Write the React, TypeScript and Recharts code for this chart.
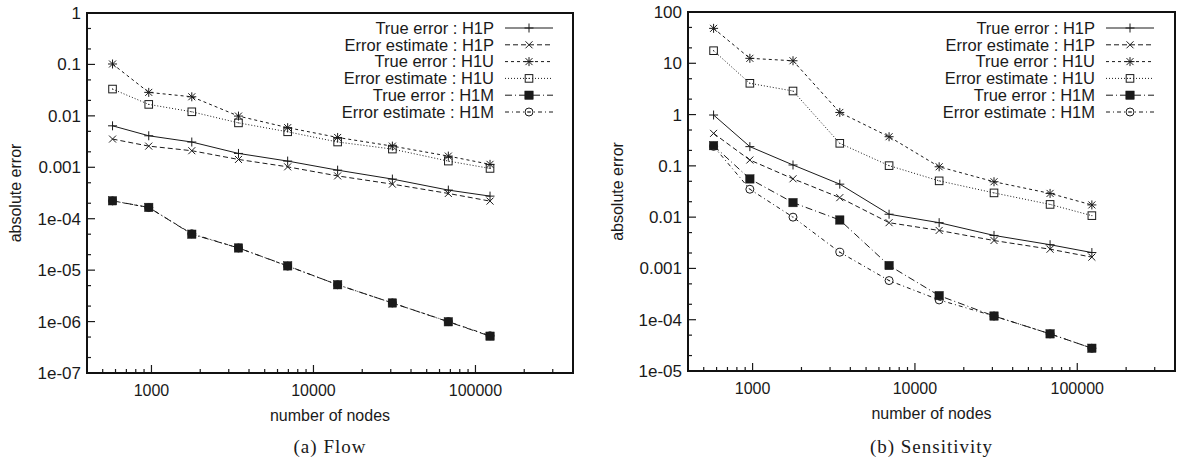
import React from 'react';
import { LineChart, Line, XAxis, YAxis, Legend } from 'recharts';

// ---------------- data ----------------
const nodes = [575, 962, 1774, 3444, 6930, 14100, 30700, 68000, 123000];

const seriesNames = [
  'True error : H1P',
  'Error estimate : H1P',
  'True error : H1U',
  'Error estimate : H1U',
  'True error : H1M',
  'Error estimate : H1M',
];

// (a) Flow
const flowTrueH1P = [0.0064, 0.0041, 0.0031, 0.00186, 0.00132, 0.00088, 0.00059, 0.00036, 0.000275];
const flowEstH1P = [0.00354, 0.00258, 0.0021, 0.00142, 0.00102, 0.00068, 0.00047, 0.00031, 0.00022];
const flowTrueH1U = [0.102, 0.0286, 0.0235, 0.0099, 0.0059, 0.0038, 0.00258, 0.00165, 0.00114];
const flowEstH1U = [0.0332, 0.0167, 0.012, 0.0073, 0.0049, 0.0031, 0.00226, 0.00132, 0.00095];
const flowTrueH1M = [0.000223, 0.000166, 5.0e-5, 2.7e-5, 1.21e-5, 5.2e-6, 2.3e-6, 9.9e-7, 5.2e-7];
const flowEstH1M = [0.000222, 0.000165, 5.1e-5, 2.7e-5, 1.2e-5, 5.2e-6, 2.3e-6, 1.0e-6, 5.3e-7];

// (b) Sensitivity
const sensTrueH1P = [0.98, 0.237, 0.104, 0.044, 0.0114, 0.0078, 0.0044, 0.0029, 0.00204];
const sensEstH1P = [0.43, 0.13, 0.056, 0.024, 0.0078, 0.0055, 0.0035, 0.00237, 0.00166];
const sensTrueH1U = [48, 12.5, 11.2, 1.1, 0.37, 0.096, 0.049, 0.029, 0.0173];
const sensEstH1U = [17.6, 4.07, 2.88, 0.275, 0.101, 0.051, 0.0297, 0.0177, 0.0107];
const sensTrueH1M = [0.248, 0.0556, 0.0192, 0.0088, 0.00114, 0.000295, 0.000118, 5.3e-5, 2.78e-5];
const sensEstH1M = [0.24, 0.035, 0.01, 0.00207, 0.00058, 0.000243, 0.000118, 5.3e-5, 2.78e-5];

// axes
const xDomain = [400, 400000];
const xMajorTicks = [1000, 10000, 100000];
const xTickLabels = ['1000', '10000', '100000'];
const xMinorTicks = [
  400, 500, 600, 700, 800, 900,
  2000, 3000, 4000, 5000, 6000, 7000, 8000, 9000,
  20000, 30000, 40000, 50000, 60000, 70000, 80000, 90000,
  200000, 300000, 400000,
];

const flowYMajor = [1e-7, 1e-6, 1e-5, 1e-4, 1e-3, 1e-2, 1e-1, 1];
const flowYLabels = ['1e-07', '1e-06', '1e-05', '1e-04', '0.001', '0.01', '0.1', '1'];
const sensYMajor = [1e-5, 1e-4, 1e-3, 1e-2, 1e-1, 1, 10, 100];
const sensYLabels = ['1e-05', '1e-04', '0.001', '0.01', '0.1', '1', '10', '100'];
const yMinorMultipliers = [2, 5];

const xLabel = 'number of nodes';
const yLabel = 'absolute error';

// ---------------- styles ----------------
const INK = '#1a1a1a';
const FRAME = '#111111';
const FONT = '"Liberation Sans", Arial, Helvetica, sans-serif';

type MarkerKind = 'plus' | 'cross' | 'star' | 'box' | 'fbox' | 'circle';
const seriesStyles: { dash?: string; marker: MarkerKind }[] = [
  { dash: undefined, marker: 'plus' },
  { dash: '5 3', marker: 'cross' },
  { dash: '3 3', marker: 'star' },
  { dash: '1 2', marker: 'box' },
  { dash: '7 3 1 3', marker: 'fbox' },
  { dash: '4 3 1 3', marker: 'circle' },
];

function Marker({ kind, cx, cy }: { kind: MarkerKind; cx: number; cy: number }) {
  const p = 4.5;
  const c = 3.5;
  const sw = 1;
  switch (kind) {
    case 'plus':
      return (
        <g stroke={INK} strokeWidth={sw}>
          <line x1={cx - p} y1={cy} x2={cx + p} y2={cy} />
          <line x1={cx} y1={cy - p} x2={cx} y2={cy + p} />
        </g>
      );
    case 'cross':
      return (
        <g stroke={INK} strokeWidth={sw}>
          <line x1={cx - c} y1={cy - c} x2={cx + c} y2={cy + c} />
          <line x1={cx - c} y1={cy + c} x2={cx + c} y2={cy - c} />
        </g>
      );
    case 'star':
      return (
        <g stroke={INK} strokeWidth={sw}>
          <line x1={cx - p} y1={cy} x2={cx + p} y2={cy} />
          <line x1={cx} y1={cy - p} x2={cx} y2={cy + p} />
          <line x1={cx - c} y1={cy - c} x2={cx + c} y2={cy + c} />
          <line x1={cx - c} y1={cy + c} x2={cx + c} y2={cy - c} />
        </g>
      );
    case 'box':
      return (
        <g>
          <rect x={cx - 3.8} y={cy - 3.8} width={7.6} height={7.6} fill="none" stroke={INK} strokeWidth={sw} />
          <rect x={cx - 0.5} y={cy - 0.5} width={1} height={1} fill={INK} />
        </g>
      );
    case 'fbox':
      return <rect x={cx - 4.2} y={cy - 4.2} width={8.4} height={8.4} fill={INK} stroke={INK} strokeWidth={0.5} />;
    case 'circle':
      return (
        <g>
          <circle cx={cx} cy={cy} r={4} fill="none" stroke={INK} strokeWidth={sw} />
          <rect x={cx - 0.5} y={cy - 0.5} width={1} height={1} fill={INK} />
        </g>
      );
  }
  return null;
}

const isMajor = (v: number) => Math.abs(Math.log10(v) - Math.round(Math.log10(v))) < 1e-9;

function buildYMinor(major: number[]) {
  const out: number[] = [];
  major.slice(0, -1).forEach((m) => yMinorMultipliers.forEach((k) => out.push(m * k)));
  return out;
}

// ---------------- panel ----------------
type PanelProps = {
  left: number;
  width: number;
  margin: { top: number; right: number; bottom: number; left: number };
  yAxisWidth: number;
  xAxisHeight: number;
  series: number[][];
  yMajor: number[];
  yLabels: string[];
  yLabelX: number;
  legendLeft: number;
  caption: string;
};

function Panel({ left, width, margin, yAxisWidth, xAxisHeight, series, yMajor, yLabels, yLabelX, legendLeft, caption }: PanelProps) {
  const height = 460;
  const rows = nodes.map((n, i) => {
    const r: Record<string, number> = { n };
    series.forEach((s, k) => {
      r['s' + k] = s[i];
    });
    return r;
  });
  const yDomain = [yMajor[0], yMajor[yMajor.length - 1]];
  const yTicks = [...yMajor, ...buildYMinor(yMajor)].sort((a, b) => a - b);
  const xTicks = [...xMajorTicks, ...xMinorTicks].sort((a, b) => a - b);

  const plotLeft = margin.left + yAxisWidth;
  const plotTop = margin.top;
  const plotW = width - margin.left - yAxisWidth - margin.right;
  const plotH = height - margin.top - margin.bottom - xAxisHeight;
  const plotCenter = plotLeft + plotW / 2;

  const bottomTick = (p: any) => {
    const v = p.payload.value;
    const maj = isMajor(v);
    const idx = xMajorTicks.findIndex((t) => Math.abs(t - v) < 1e-6);
    return (
      <g key={'bx' + v}>
        <line x1={p.x} y1={p.y} x2={p.x} y2={p.y - (maj ? 8 : 4)} stroke={INK} strokeWidth={1.2} />
        {maj && idx >= 0 ? (
          <text x={p.x} y={p.y + 17} dy="0.35em" textAnchor="middle" fontSize={16} fontFamily={FONT} fill={INK}>
            {xTickLabels[idx]}
          </text>
        ) : null}
      </g>
    );
  };
  const topTick = (p: any) => {
    const v = p.payload.value;
    const maj = isMajor(v);
    return (
      <line key={'tx' + v} x1={p.x} y1={p.y} x2={p.x} y2={p.y + (maj ? 8 : 4)} stroke={INK} strokeWidth={1.2} />
    );
  };
  const leftTick = (p: any) => {
    const v = p.payload.value;
    const maj = isMajor(v);
    const idx = yMajor.findIndex((t) => Math.abs(Math.log10(t) - Math.log10(v)) < 1e-9);
    return (
      <g key={'ly' + v}>
        <line x1={p.x} y1={p.y} x2={p.x + (maj ? 8 : 4)} y2={p.y} stroke={INK} strokeWidth={1.2} />
        {maj && idx >= 0 ? (
          <text x={p.x - 6} y={p.y} dy="0.35em" textAnchor="end" fontSize={17} fontFamily={FONT} fill={INK}>
            {yLabels[idx]}
          </text>
        ) : null}
      </g>
    );
  };
  const rightTick = (p: any) => {
    const v = p.payload.value;
    const maj = isMajor(v);
    return (
      <line key={'ry' + v} x1={p.x} y1={p.y} x2={p.x - (maj ? 8 : 4)} y2={p.y} stroke={INK} strokeWidth={1.2} />
    );
  };

  const xLabelContent = (p: any) => {
    const vb = p.viewBox || {};
    const cx = (vb.x ?? 0) + (vb.width ?? 0) / 2;
    const y = (vb.y ?? 0) + 42;
    return (
      <text x={cx} y={y} dy="0.35em" textAnchor="middle" fontSize={16} fontFamily={FONT} fill={INK}>
        {xLabel}
      </text>
    );
  };
  const yLabelContent = (p: any) => {
    const vb = p.viewBox || {};
    const cy = (vb.y ?? 0) + (vb.height ?? 0) / 2;
    return (
      <text
        x={yLabelX}
        y={cy}
        dy="0.35em"
        textAnchor="middle"
        fontSize={16}
        fontFamily={FONT}
        fill={INK}
        transform={`rotate(-90, ${yLabelX}, ${cy})`}
      >
        {yLabel}
      </text>
    );
  };

  const legendContent = () => (
    <svg width={380} height={110} style={{ overflow: 'visible' }}>
      {seriesNames.map((name, k) => {
        const y = 10 + k * 16.8;
        const st = seriesStyles[k];
        return (
          <g key={name}>
            <text x={300} y={y} dy="0.35em" textAnchor="end" fontSize={16.5} fontFamily={FONT} fill={INK}>
              {name}
            </text>
            <line x1={311} y1={y} x2={359} y2={y} stroke={INK} strokeWidth={1} strokeDasharray={st.dash} />
            <Marker kind={st.marker} cx={335} cy={y} />
          </g>
        );
      })}
    </svg>
  );

  const axisLine = { stroke: FRAME, strokeWidth: 2 };

  return (
    <div style={{ position: 'absolute', left, top: 0, width, height }}>
      <LineChart width={width} height={height} data={rows} margin={margin}>
        <XAxis
          xAxisId="b"
          dataKey="n"
          type="number"
          scale="log"
          domain={xDomain}
          allowDataOverflow
          ticks={xTicks}
          interval={0}
          tickSize={0}
          tickMargin={0}
          tickLine={false}
          stroke={FRAME}
          axisLine={axisLine}
          tick={bottomTick}
          height={xAxisHeight}
          label={xLabelContent}
        />
        <XAxis
          xAxisId="t"
          orientation="top"
          dataKey="n"
          type="number"
          scale="log"
          domain={xDomain}
          allowDataOverflow
          ticks={xTicks}
          interval={0}
          tickSize={0}
          tickMargin={0}
          tickLine={false}
          axisLine={false}
          tick={topTick}
          height={0}
        />
        <YAxis
          yAxisId="l"
          type="number"
          scale="log"
          domain={yDomain}
          allowDataOverflow
          ticks={yTicks}
          interval={0}
          tickSize={0}
          tickMargin={0}
          tickLine={false}
          stroke={FRAME}
          axisLine={axisLine}
          tick={leftTick}
          width={yAxisWidth}
          label={yLabelContent}
        />
        <YAxis
          yAxisId="r"
          orientation="right"
          type="number"
          scale="log"
          domain={yDomain}
          allowDataOverflow
          ticks={yTicks}
          interval={0}
          tickSize={0}
          tickMargin={0}
          tickLine={false}
          axisLine={false}
          tick={rightTick}
          width={0}
        />
        {series.map((_, k) => {
          const st = seriesStyles[k];
          return (
            <Line
              key={'s' + k}
              xAxisId="b"
              yAxisId="l"
              dataKey={'s' + k}
              name={seriesNames[k]}
              type="linear"
              stroke={INK}
              strokeWidth={1}
              strokeDasharray={st.dash}
              dot={(d: any) => <Marker key={'d' + k + '-' + d.index} kind={st.marker} cx={d.cx} cy={d.cy} />}
              activeDot={false}
              isAnimationActive={false}
            />
          );
        })}
        <Legend
          layout="vertical"
          align="center"
          verticalAlign="middle"
          content={legendContent}
          wrapperStyle={{ left: legendLeft, top: 18, width: 380, height: 110 }}
        />
      </LineChart>
      <svg
        width={width}
        height={height}
        style={{ position: 'absolute', left: 0, top: 0, pointerEvents: 'none' }}
      >
        <rect x={plotLeft} y={plotTop} width={plotW} height={plotH} fill="none" stroke={FRAME} strokeWidth={2} />
      </svg>
      <div
        style={{
          position: 'absolute',
          left: plotCenter - 150,
          width: 300,
          top: 436,
          lineHeight: '22px',
          textAlign: 'center',
          fontFamily: '"Liberation Serif", "Times New Roman", serif',
          fontSize: 19,
          letterSpacing: 1,
          color: INK,
        }}
      >
        {caption}
      </div>
    </div>
  );
}

export default function App() {
  return (
    <div style={{ position: 'absolute', left: 0, top: 0, width: 1177, height: 460, background: '#fff' }}>
      <Panel
        left={0}
        width={590}
        margin={{ top: 13, right: 17, bottom: 37, left: 0 }}
        yAxisWidth={87}
        xAxisHeight={50}
        series={[flowTrueH1P, flowEstH1P, flowTrueH1U, flowEstH1U, flowTrueH1M, flowEstH1M]}
        yMajor={flowYMajor}
        yLabels={flowYLabels}
        yLabelX={15}
        legendLeft={194}
        caption="(a) Flow"
      />
      <Panel
        left={590}
        width={587}
        margin={{ top: 12, right: 2, bottom: 39, left: 0 }}
        yAxisWidth={98}
        xAxisHeight={50}
        series={[sensTrueH1P, sensEstH1P, sensTrueH1U, sensEstH1U, sensTrueH1M, sensEstH1M]}
        yMajor={sensYMajor}
        yLabels={sensYLabels}
        yLabelX={27}
        legendLeft={205}
        caption="(b) Sensitivity"
      />
    </div>
  );
}
